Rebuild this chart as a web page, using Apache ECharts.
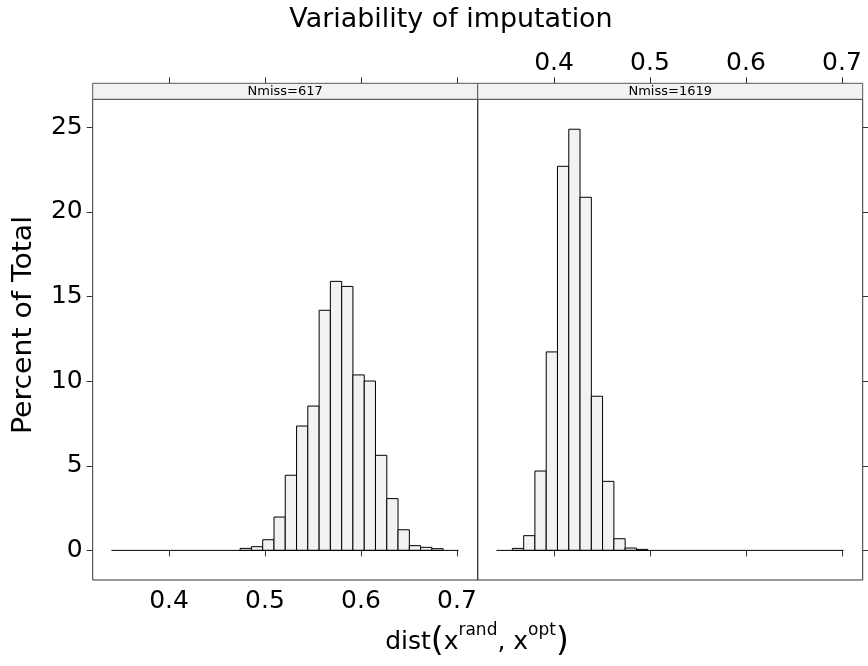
<!DOCTYPE html>
<html>
<head>
<meta charset="utf-8">
<script src="https://cdn.jsdelivr.net/npm/echarts@6/dist/echarts.min.js"></script>
<style>
html, body { margin: 0; padding: 0; background: #fff; }
#main { width: 868px; height: 666px; }
</style>
</head>
<body>
<div id="main"></div>
<script>
// histogram break points (shared by both panels)
var breaks = [0.3566, 0.3684, 0.3801, 0.3919, 0.4036, 0.4154, 0.4271, 0.4389, 0.4506, 0.4624,
              0.4741, 0.4859, 0.4976, 0.5094, 0.5211, 0.5329, 0.5446, 0.5564, 0.5681, 0.5799,
              0.5916, 0.6034, 0.6151, 0.6269, 0.6386, 0.6504, 0.6621, 0.6739, 0.6856];
// percent of total per bin
var pct617 = [0, 0, 0, 0, 0, 0, 0, 0, 0, 0,
              0.12, 0.22, 0.63, 1.97, 4.44, 7.35, 8.53, 14.19, 15.9, 15.6,
              10.37, 10.01, 5.62, 3.06, 1.22, 0.28, 0.18, 0.1];
var pct1619 = [0.12, 0.87, 4.69, 11.73, 22.7, 24.89, 20.87, 9.11, 4.08, 0.69,
               0.14, 0.06, 0, 0, 0, 0, 0, 0, 0, 0,
               0, 0, 0, 0, 0, 0, 0, 0];
var panelNames = ['Nmiss=617', 'Nmiss=1619'];
var dataRange = [0.340, 0.7016];
var xTicks = [0.4, 0.5, 0.6, 0.7];
var yTicks = [0, 5, 10, 15, 20, 25];

var myChart = echarts.init(document.getElementById('main'));
var font = 'DejaVu Sans';

function bins(pct) {
    var d = [];
    for (var i = 0; i < pct.length; i++) {
        if (pct[i] > 0) d.push([breaks[i], breaks[i + 1], pct[i]]);
    }
    return d;
}

function renderBar(params, api) {
    var a = api.coord([api.value(0), api.value(2)]);
    var b = api.coord([api.value(1), 0]);
    return {
        type: 'rect',
        shape: { x: a[0], y: a[1], width: b[0] - a[0], height: b[1] - a[1] },
        style: { fill: '#f2f2f2', stroke: '#000', lineWidth: 1 }
    };
}

var pLeft = [92.7, 477.7];
var pW = 385, pTop = 99.3, pH = 480.7, stripH = 16;

function xAx(grid, pos, showLabel) {
    return {
        type: 'value', gridIndex: grid, position: pos,
        offset: pos == 'top' ? stripH : 0,
        min: 0.3205, max: 0.7216,
        axisLine: { show: false },
        axisTick: { show: true, inside: false, length: 6, customValues: xTicks, lineStyle: { color: '#333' } },
        axisLabel: { show: showLabel, customValues: xTicks, margin: pos == 'top' ? 7 : 9,
                     fontSize: 25, fontFamily: font, color: '#000' },
        splitLine: { show: false }
    };
}
function yAx(grid, pos, showLabel) {
    return {
        type: 'value', gridIndex: grid, position: pos,
        min: -1.75, max: 26.66,
        axisLine: { show: false },
        axisTick: { show: true, inside: false, length: 6, customValues: yTicks, lineStyle: { color: '#333' } },
        axisLabel: { show: showLabel, customValues: yTicks, margin: 10,
                     fontSize: 25, fontFamily: font, color: '#000' },
        splitLine: { show: false }
    };
}

var graphics = [
    { type: 'text', x: 451, y: 20, scaleX: 1.035, style: { text: 'Variability of imputation', fontSize: 26,
      fontFamily: font, fill: '#000', align: 'center', verticalAlign: 'middle' } },
    { type: 'text', x: 24, y: 325, rotation: Math.PI / 2, scaleX: 1.09, style: { text: 'Percent of Total',
      fontSize: 26, fontFamily: font, fill: '#000', align: 'center', verticalAlign: 'middle' } },
    { type: 'text', x: 477, y: 642, style: {
        text: 'dist{p|(}x{s|rand}, x{s|opt}{p|)}', fontSize: 25, fontFamily: font, fill: '#000',
        align: 'center', verticalAlign: 'middle',
        rich: {
            p: { fontSize: 33, fontFamily: font, lineHeight: 40 },
            s: { fontSize: 17, fontFamily: font, verticalAlign: 'top', lineHeight: 22 }
        } } }
];
for (var k = 0; k < 2; k++) {
    graphics.push({ type: 'rect', shape: { x: pLeft[k], y: pTop - stripH, width: pW, height: stripH },
        style: { fill: '#f2f2f2', stroke: '#555', lineWidth: 1 } });
    graphics.push({ type: 'text', x: pLeft[k] + pW / 2, y: pTop - stripH / 2 + 0.5,
        style: { text: panelNames[k], fontSize: 13, fontFamily: font, fill: '#000',
                 align: 'center', verticalAlign: 'middle' } });
}

var option = {
    backgroundColor: '#fff',
    animation: false,
    grid: [
        { left: pLeft[0], top: pTop, width: pW, height: pH, show: true, borderColor: '#333', borderWidth: 1 },
        { left: pLeft[1], top: pTop, width: pW, height: pH, show: true, borderColor: '#333', borderWidth: 1 }
    ],
    xAxis: [xAx(0, 'bottom', true), xAx(0, 'top', false), xAx(1, 'bottom', false), xAx(1, 'top', true)],
    yAxis: [yAx(0, 'left', true), yAx(1, 'right', false)],
    graphic: graphics,
    series: [
        { type: 'custom', xAxisIndex: 0, yAxisIndex: 0, renderItem: renderBar,
          encode: { x: [0, 1], y: 2 }, data: bins(pct617) },
        { type: 'line', xAxisIndex: 0, yAxisIndex: 0, symbol: 'none', silent: true,
          lineStyle: { color: '#000', width: 1 }, data: [[dataRange[0], 0], [dataRange[1], 0]] },
        { type: 'custom', xAxisIndex: 2, yAxisIndex: 1, renderItem: renderBar,
          encode: { x: [0, 1], y: 2 }, data: bins(pct1619) },
        { type: 'line', xAxisIndex: 2, yAxisIndex: 1, symbol: 'none', silent: true,
          lineStyle: { color: '#000', width: 1 }, data: [[dataRange[0], 0], [dataRange[1], 0]] }
    ]
};
myChart.setOption(option);
</script>
</body>
</html>
